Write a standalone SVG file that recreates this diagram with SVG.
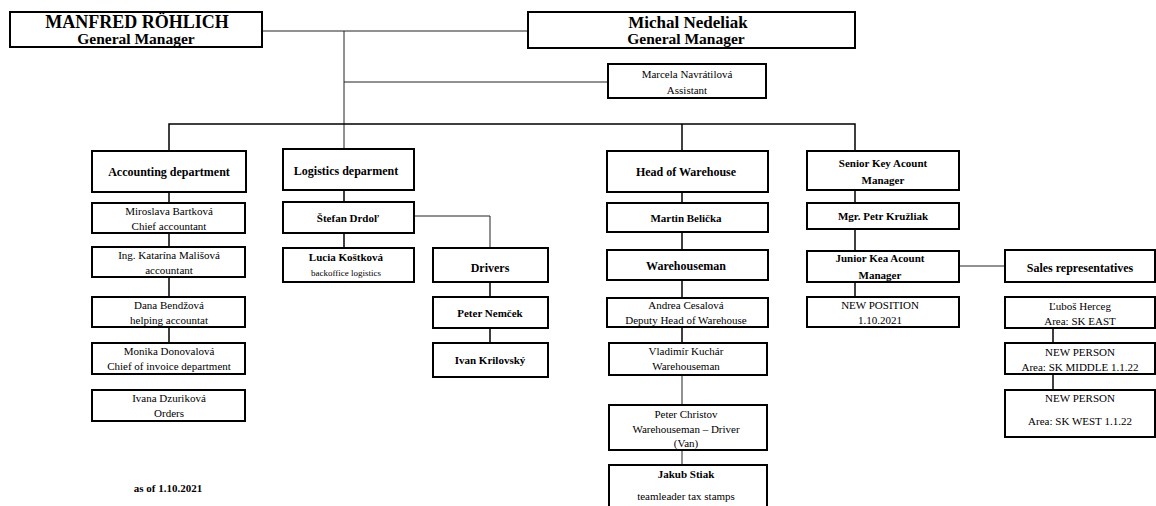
<svg xmlns="http://www.w3.org/2000/svg" width="1156" height="506" viewBox="0 0 1156 506">
<style>
  .box { fill: #fff; stroke: #000; stroke-width: 2; }
  .t { font-family: "Liberation Serif", "Times New Roman", serif; font-size: 11px; fill: #000; text-anchor: middle; }
  .b { font-weight: bold; }
  .h { font-family: "Liberation Serif", "Times New Roman", serif; font-size: 12px; font-weight: bold; fill: #000; text-anchor: middle; }
  .top { font-family: "Liberation Serif", "Times New Roman", serif; font-size: 17px; font-weight: bold; fill: #000; text-anchor: middle; }
  .small { font-size: 9px; }
  .c { fill: none; stroke: #000; stroke-width: 1.5; }
  .thin { fill: none; stroke: #222; stroke-width: 1; }
</style>
<rect width="1156" height="506" fill="#fff"/>
<g id="connectors">
  <path class="thin" d="M262 31 H528"/>
  <path class="thin" d="M344 31 V149"/>
  <path class="thin" d="M344 82 H608"/>
  <path class="c" d="M169 151 V124 H855 V151"/>
  <path class="c" d="M682 124 V151"/>
  <path class="c" d="M169 192 V203 M169 233 V247 M169 277 V297 M169 327 V343"/>
  <path class="c" d="M344 189 V202 M344 233 V248"/>
  <path class="thin" d="M414 216 H490 V248"/>
  <path class="c" d="M490 282 V297 M490 328 V343"/>
  <path class="c" d="M682 192 V203 M682 232 V250 M682 280 V298 M682 327 V343"/>
  <path class="thin" d="M682 375 V405 M682 450 V465"/>
  <path class="c" d="M855 190 V203 M855 229 V251 M855 282 V297"/>
  <path class="thin" d="M959 266 H1005"/>
  <path class="c" d="M1053 328 V343 M1053 374 V390"/>
</g>
<g id="manfred"><rect class="box" x="10" y="12" width="252" height="35"/><text class="top" x="137" y="28" style="font-size:18px">MANFRED RÖHLICH</text><text class="top" x="136" y="44" style="font-size:15.5px">General Manager</text></g>
<g id="michal"><rect class="box" x="528" y="12" width="327" height="36"/><text class="top" x="688" y="28">Michal Nedeliak</text><text class="top" x="686" y="44" style="font-size:15.5px">General Manager</text></g>
<g id="marcela"><rect class="box" x="608" y="64" width="158" height="34"/><text class="t" x="687" y="78">Marcela Navrátilová</text><text class="t" x="687" y="94">Assistant</text></g>

<g id="accounting"><rect class="box" x="92" y="151" width="154" height="41"/><text class="h" x="169" y="176">Accounting department</text></g>
<g id="miroslava"><rect class="box" x="92" y="203" width="153" height="30"/><text class="t" x="169" y="215">Miroslava Bartková</text><text class="t" x="169" y="230">Chief accountant</text></g>
<g id="katarina"><rect class="box" x="92" y="247" width="153" height="30"/><text class="t" x="169" y="259">Ing. Katarína Mališová</text><text class="t" x="169" y="274">accountant</text></g>
<g id="dana"><rect class="box" x="92" y="297" width="153" height="30"/><text class="t" x="169" y="309">Dana Bendžová</text><text class="t" x="169" y="324">helping accountat</text></g>
<g id="monika"><rect class="box" x="92" y="343" width="153" height="31"/><text class="t" x="169" y="355">Monika Donovalová</text><text class="t" x="169" y="370">Chief of invoice department</text></g>
<g id="ivana"><rect class="box" x="92" y="390" width="153" height="31"/><text class="t" x="169" y="402">Ivana Dzuriková</text><text class="t" x="169" y="417">Orders</text></g>
<g id="asof"><text class="t b" x="168" y="492">as of 1.10.2021</text></g>

<g id="logistics"><rect class="box" x="283" y="149" width="131" height="41"/><text class="h" x="346" y="175">Logistics deparment</text></g>
<g id="stefan"><rect class="box" x="283" y="202" width="131" height="31"/><text class="t b" x="348" y="222">Štefan Drdoľ</text></g>
<g id="lucia"><rect class="box" x="283" y="248" width="131" height="34"/><text class="t b" x="346" y="261">Lucia Koštková</text><text class="t small" x="346" y="276">backoffice logistics</text></g>
<g id="drivers"><rect class="box" x="433" y="248" width="115" height="34"/><text class="h" x="490" y="272">Drivers</text></g>
<g id="peter-n"><rect class="box" x="433" y="297" width="115" height="31"/><text class="t b" x="490" y="317">Peter Nemček</text></g>
<g id="ivan"><rect class="box" x="433" y="343" width="115" height="34"/><text class="t b" x="490" y="364">Ivan Krilovský</text></g>

<g id="head-warehouse"><rect class="box" x="607" y="151" width="161" height="41"/><text class="h" x="686" y="176">Head of Warehouse</text></g>
<g id="martin"><rect class="box" x="607" y="203" width="161" height="29"/><text class="t b" x="686" y="222">Martin Belička</text></g>
<g id="warehouseman"><rect class="box" x="607" y="250" width="161" height="30"/><text class="h" x="686" y="270">Warehouseman</text></g>
<g id="andrea"><rect class="box" x="607" y="298" width="161" height="29"/><text class="t" x="686" y="309">Andrea Cesalová</text><text class="t" x="686" y="324">Deputy Head of Warehouse</text></g>
<g id="vladimir"><rect class="box" x="609" y="343" width="158" height="32"/><text class="t" x="686" y="355">Vladimír Kuchár</text><text class="t" x="686" y="370">Warehouseman</text></g>
<g id="peter-c"><rect class="box" x="609" y="405" width="158" height="45"/><text class="t" x="686" y="418">Peter Christov</text><text class="t" x="686" y="433">Warehouseman – Driver</text><text class="t" x="686" y="447">(Van)</text></g>
<g id="jakub"><rect class="box" x="609" y="465" width="158" height="50"/><text class="t b" x="686" y="478">Jakub Stiak</text><text class="t" x="686" y="500">teamleader tax stamps</text></g>

<g id="senior-kam"><rect class="box" x="807" y="151" width="152" height="39"/><text class="t b" x="883" y="167">Senior Key Acount</text><text class="t b" x="883" y="184">Manager</text></g>
<g id="petr"><rect class="box" x="807" y="203" width="152" height="26"/><text class="t b" x="883" y="220">Mgr. Petr Kružliak</text></g>
<g id="junior-kam"><rect class="box" x="807" y="251" width="152" height="31"/><text class="t b" x="880" y="262">Junior Kea Acount</text><text class="t b" x="880" y="279">Manager</text></g>
<g id="new-position"><rect class="box" x="807" y="297" width="152" height="30"/><text class="t" x="880" y="309">NEW POSITION</text><text class="t" x="880" y="324">1.10.2021</text></g>

<g id="sales-reps"><rect class="box" x="1005" y="250" width="150" height="32"/><text class="h" x="1080" y="272">Sales representatives</text></g>
<g id="lubos"><rect class="box" x="1005" y="297" width="150" height="31"/><text class="t" x="1080" y="310">Ľuboš Herceg</text><text class="t" x="1080" y="325">Area: SK EAST</text></g>
<g id="new-person-1"><rect class="box" x="1005" y="343" width="150" height="31"/><text class="t" x="1080" y="356">NEW PERSON</text><text class="t" x="1080" y="371">Area: SK MIDDLE 1.1.22</text></g>
<g id="new-person-2"><rect class="box" x="1005" y="390" width="150" height="47"/><text class="t" x="1080" y="402">NEW PERSON</text><text class="t" x="1080" y="425">Area: SK WEST 1.1.22</text></g>
</svg>
